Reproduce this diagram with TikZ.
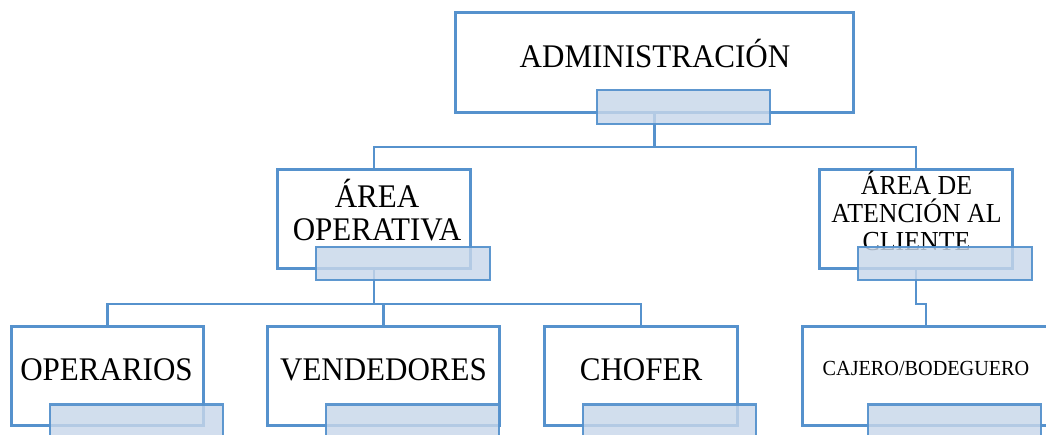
\documentclass[tikz,border=0pt]{standalone}
\usepackage{graphicx}
\usepackage{fontspec}
\setmainfont{Liberation Serif}
\newcommand{\narrowtext}[2][0.94]{\scalebox{#1}[1]{#2}}
\begin{document}
\definecolor{frame}{RGB}{86,146,205}
\definecolor{tagfill}{RGB}{200,215,234}
\begin{tikzpicture}[x=1pt,y=-1pt,
  unitbox/.style={draw=frame,line width=2.4pt,fill=white,minimum width=#1,minimum height=98pt,inner sep=0pt},
  tagbox/.style={draw=frame,line width=2.3pt,fill=tagfill,fill opacity=0.82,draw opacity=0.95,minimum width=173pt,minimum height=33pt,inner sep=0pt},
  caption/.style={anchor=base,inner sep=0pt,text=black},
  big/.style={font=\fontsize{33}{35}\selectfont},
  mid/.style={font=\fontsize{27.5}{29}\selectfont},
  small/.style={font=\fontsize{21.5}{23}\selectfont},
  link/.style={draw=frame,line width=2.1pt}]
\useasboundingbox (0,0) rectangle (1046,434);
\clip (0,0) rectangle (1046,434);

% unit boxes
\node[unitbox=397pt,minimum height=99pt] (admB) at (654.5,62.5) {};
\node[unitbox=192pt] (opB) at (374,219) {};
\node[unitbox=192pt] (atB) at (916,219) {};
\node[unitbox=191pt] (oprB) at (107.5,376) {};
\node[unitbox=231pt] (venB) at (383.5,376) {};
\node[unitbox=192pt] (choB) at (641,376) {};
\node[unitbox=246pt] (cajB) at (926,376) {};

% connectors
\draw[link] (admB.south) -- ++(0,34) -| (opB.north);
\draw[link] (admB.south) -- ++(0,34) -| (atB.north);
\draw[link] (opB.south) -- ++(0,35) -| (oprB.north);
\draw[link] (opB.south) -- ++(0,35) -| (venB.north);
\draw[link] (opB.south) -- ++(0,35) -| (choB.north);
\draw[link] (atB.south) -- ++(0,35) -| (cajB.north);

% redraw box frames over the connector ends
\foreach \b in {admB,opB,atB,oprB,venB,choB,cajB}
  \draw[draw=frame,line width=2.4pt] (\b.south west) rectangle (\b.north east);

% captions
\node[caption,big] (tAdm) at (655,67) {\narrowtext{ADMINISTRACIÓN}};
\node[caption,big] (tOp1) at (377,207) {\narrowtext{ÁREA}};
\node[caption,big] (tOp2) at (377,240) {\narrowtext{OPERATIVA}};
\node[caption,mid] (tAt1) at (916.5,194) {\narrowtext{ÁREA DE}};
\node[caption,mid] (tAt2) at (916.5,222) {\narrowtext{ATENCIÓN AL}};
\node[caption,mid] (tAt3) at (916.5,250) {\narrowtext{CLIENTE}};
\node[caption,big] (tOpr) at (106.5,380.5) {\narrowtext{OPERARIOS}};
\node[caption,big] (tVen) at (383.5,380.5) {\narrowtext{VENDEDORES}};
\node[caption,big] (tCho) at (641,380.5) {\narrowtext{CHOFER}};
\node[caption,small] (tCaj) at (926,375) {\narrowtext{CAJERO/BODEGUERO}};

% name tags
\node[tagbox,minimum height=34pt] (admL) at (683.5,107) {};
\node[tagbox,minimum width=174pt] (opL) at (403,263.5) {};
\node[tagbox,minimum width=174pt] (atL) at (945,263.5) {};
\node[tagbox] (oprL) at (136.5,421) {};
\node[tagbox] (venL) at (412.5,421) {};
\node[tagbox] (choL) at (669.5,421) {};
\node[tagbox] (cajL) at (954.5,421) {};
\end{tikzpicture}
\end{document}
